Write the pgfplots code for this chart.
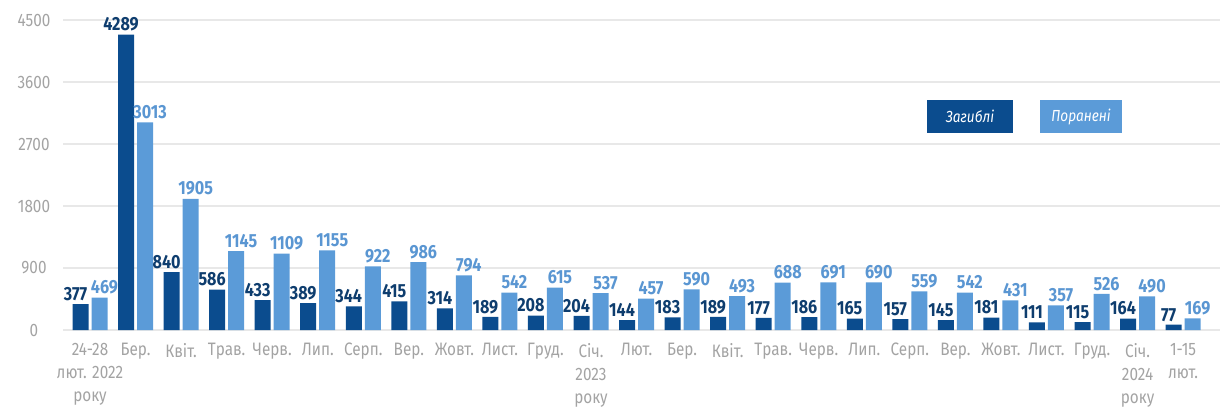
\documentclass[border=0pt]{standalone}
\usepackage{fontspec}
\usepackage{pgfplots}
\pgfplotsset{compat=1.18}
\setmainfont{Fira Sans}
\newfontfamily\narrowfont[FakeStretch=0.85]{Fira Sans}

\definecolor{killed}{HTML}{0B4C8E}
\definecolor{wounded}{HTML}{5B9BD8}
\definecolor{killedtxt}{HTML}{0E3D6E}
\definecolor{wndtxt}{HTML}{5A96D2}
\definecolor{ticktxt}{HTML}{A3A3A3}

\begin{document}
\begin{tikzpicture}
  % fix the page to the reference frame (1 px = 0.5 bp)
  \path (-31.5bp,-40bp) rectangle (582bp,165bp);
  \begin{axis}[
      scale only axis,
      width=578.5bp, height=155bp,
      ybar=1.5bp, bar width=8bp,
      xmin=-0.593, xmax=24.81,
      ymin=0, ymax=4500,
      enlargelimits=false,
      clip=false,
      axis line style={draw=none},
      major tick length=0pt,
      ymajorgrids, grid style={ticktxt!25, line width=0.6pt},
      ytick={0,900,...,4500},
      xtick={0,...,24},
      xticklabels={{24-28\\лют. 2022\\року},Бер.,Квіт.,Трав.,Черв.,Лип.,Серп.,Вер.,Жовт.,Лист.,Груд.,{Січ.\\2023\\року},Лют.,Бер.,Квіт.,Трав.,Черв.,Лип.,Серп.,Вер.,Жовт.,Лист.,Груд.,{Січ.\\2024\\року},{1-15\\лют.}},
      /pgf/number format/assume math mode=true,
      /pgf/number format/1000 sep={},
      xticklabel style={font=\narrowfont\fontsize{9bp}{11.5bp}\selectfont, text=ticktxt, align=center, anchor=north, yshift=-3bp},
      yticklabel style={font=\narrowfont\fontsize{9bp}{11bp}\selectfont, text=ticktxt, anchor=center, xshift=-14.5bp},
      nodes near coords,
      nodes near coords style={font=\narrowfont\bfseries\fontsize{9.5bp}{11bp}\selectfont, inner sep=1.5bp},
    ]
    \addplot[fill=killed, draw=none,
      nodes near coords style={text=killedtxt, xshift=-2.5bp}] coordinates {
      (0,377)(1,4289)(2,840)(3,586)(4,433)(5,389)(6,344)(7,415)(8,314)
      (9,189)(10,208)(11,204)(12,144)(13,183)(14,189)(15,177)(16,186)
      (17,165)(18,157)(19,145)(20,181)(21,111)(22,115)(23,164)(24,77)
    };
    \addplot[fill=wounded, draw=none,
      nodes near coords style={text=wndtxt, xshift=2.5bp}] coordinates {
      (0,469)(1,3013)(2,1905)(3,1145)(4,1109)(5,1155)(6,922)(7,986)(8,794)
      (9,542)(10,615)(11,537)(12,457)(13,590)(14,493)(15,688)(16,691)
      (17,690)(18,559)(19,542)(20,431)(21,357)(22,526)(23,490)(24,169)
    };
  \end{axis}
  % legend boxes
  \node[fill=killed, minimum width=43bp, minimum height=16.5bp, inner sep=0pt,
    text=white, font=\narrowfont\itshape\fontsize{8bp}{9bp}\selectfont]
    at (453.5bp,106.75bp) {Загиблі};
  \node[fill=wounded, minimum width=41bp, minimum height=16.5bp, inner sep=0pt,
    text=white, font=\narrowfont\itshape\fontsize{8bp}{9bp}\selectfont]
    at (509bp,106.75bp) {Поранені};
\end{tikzpicture}
\end{document}
